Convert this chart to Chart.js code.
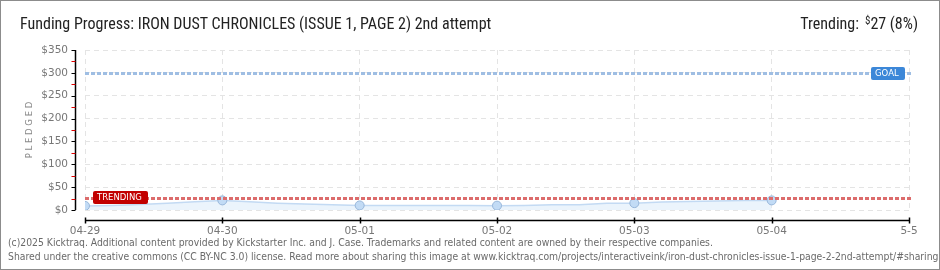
<!DOCTYPE html>
<html>
<head>
<meta charset="utf-8">
<script src="https://cdn.jsdelivr.net/npm/chart.js@4.4.1/dist/chart.umd.min.js"></script>
<style>
  html, body { margin: 0; padding: 0; background: #fff; }
  #wrap { position: relative; width: 940px; height: 270px; box-sizing: border-box; border: 1px solid #8c8c8c; overflow: hidden; }
  #chart { position: absolute; left: -1px; top: -1px; }
  .txt { position: absolute; white-space: nowrap; font-family: "Liberation Sans Narrow", "Roboto Condensed", Roboto, sans-serif; color: #222; }
  #title { left: 19px; top: 13px; font-size: 16px; }
  #trend { right: 21px; top: 13px; font-size: 16px; }
  #trend sup { font-size: 11px; vertical-align: 5px; margin-left: 6px; }
  .foot { left: 7px; font-family: "DejaVu Sans Condensed", "DejaVu Sans", sans-serif; font-size: 10.3px; color: #6a6a6a; }
</style>
</head>
<body>
<div id="wrap">
  <canvas id="chart" width="940" height="270"></canvas>
  <div class="txt" id="title">Funding Progress: IRON DUST CHRONICLES (ISSUE 1, PAGE 2) 2nd attempt</div>
  <div class="txt" id="trend">Trending:<sup>$</sup>27 (8%)</div>
  <div class="txt foot" style="top:235px">(c)2025 Kicktraq. Additional content provided by Kickstarter Inc. and J. Case. Trademarks and related content are owned by their respective companies.</div>
  <div class="txt foot" style="top:249px">Shared under the creative commons (CC BY-NC 3.0) license. Read more about sharing this image at www.kicktraq.com/projects/interactiveink/iron-dust-chronicles-issue-1-page-2-2nd-attempt/#sharing</div>
</div>
<script>
// Day labels along the x axis (one per day, index = day offset)
const dayLabels = ["04-29", "04-30", "05-01", "05-02", "05-03", "05-04", "5-5"];

// Pledged samples (day offset from 04-29, dollars)
const sampleDays = [0, 0.2, 0.4, 0.6, 0.8, 1, 1.2, 1.4, 1.6, 1.8, 2, 2.2, 2.4, 2.6, 2.8, 3, 3.2, 3.4, 3.6, 3.8, 4, 4.2, 4.4, 4.6, 4.8, 5];
const pledged = [9, 10, 12, 15, 18, 21, 18, 15, 13, 11.5, 10, 10, 10, 10, 10, 9.5, 10, 11.5, 11.5, 15, 15, 17.5, 18.5, 19.5, 21, 21];

// Reference lines
const goal = 300;
const trending = 27;

const pixelFont = "'DejaVu Sans', sans-serif";

// Draws the offset axis lines, minor ticks and the GOAL / TRENDING lines
const extras = {
  id: "extras",
  afterDatasetsDraw(chart) {
    const { ctx, chartArea: a, scales: { x, y } } = chart;
    ctx.save();

    // reference lines
    function refLine(val, color) {
      const py = Math.round(y.getPixelForValue(val)) + 0.5;
      ctx.strokeStyle = color;
      ctx.lineWidth = 3;
      ctx.setLineDash([4, 2]);
      ctx.beginPath();
      ctx.moveTo(a.left, py);
      ctx.lineTo(a.right + 2, py);
      ctx.stroke();
      ctx.setLineDash([]);
      return py;
    }
    const gy = refLine(goal, "#9fbee3");
    const ty = refLine(trending, "#dc6c6c");

    function tag(text, left, width, cy, color) {
      ctx.fillStyle = color;
      ctx.beginPath();
      ctx.roundRect(left, cy - 6.5, width, 13, 2);
      ctx.fill();
      ctx.fillStyle = "#fff";
      ctx.font = "8.5px " + pixelFont;
      ctx.textAlign = "left";
      ctx.textBaseline = "middle";
      ctx.fillText(text, left + 4, cy + 0.5);
    }
    tag("GOAL", 871, 34, gy, "#3c87d8");
    tag("TRENDING", 93, 55, ty - 1, "#c20000");

    // y axis line, offset left of the plot
    const axX = a.left - 9.5;
    ctx.strokeStyle = "#000";
    ctx.lineWidth = 1.5;
    ctx.beginPath();
    ctx.moveTo(axX, a.top);
    ctx.lineTo(axX, a.bottom);
    ctx.stroke();
    for (let v = y.min; v <= y.max; v += 25) {
      const py = Math.round(y.getPixelForValue(v)) + 0.5;
      ctx.strokeStyle = v % 50 === 0 ? "#000" : "#e00000";
      ctx.lineWidth = 1;
      ctx.beginPath();
      ctx.moveTo(axX - 4, py);
      ctx.lineTo(axX, py);
      ctx.stroke();
    }

    // x axis line, offset below the plot
    const axY = a.bottom + 10.5;
    ctx.strokeStyle = "#000";
    ctx.lineWidth = 1.5;
    ctx.beginPath();
    ctx.moveTo(a.left, axY);
    ctx.lineTo(a.right, axY);
    ctx.stroke();
    x.ticks.forEach(t => {
      const px = Math.round(x.getPixelForValue(t.value)) + 0.5;
      ctx.beginPath();
      ctx.moveTo(px, axY - 3);
      ctx.lineTo(px, axY + 3);
      ctx.stroke();
    });
    ctx.restore();
  }
};

const ctx = document.getElementById("chart").getContext("2d");

const fundingChart = new Chart(ctx, {
  type: "line",
  data: {
    datasets: [{
      label: "Pledged",
      data: sampleDays.map((d, i) => ({ x: d, y: pledged[i] })),
      borderColor: "#c3daf3",
      borderWidth: 1.5,
      backgroundColor: "rgba(232, 242, 252, 0.85)",
      fill: "origin",
      tension: 0,
      pointRadius: c => Number.isInteger(sampleDays[c.dataIndex]) ? 4.5 : 0,
      pointBackgroundColor: "#c2dbf5",
      pointBorderColor: "#97b6da",
      pointBorderWidth: 1
    }]
  },
  options: {
    responsive: false,
    animation: false,
    layout: { padding: { left: 0, right: 31, top: 50, bottom: 0 } },
    scales: {
      x: {
        type: "linear",
        min: 0,
        max: 6,
        afterFit: s => { s.height = 60; },
        ticks: {
          stepSize: 1,
          padding: 15,
          color: "#777",
          font: { family: pixelFont, size: 10.5 },
          callback: v => dayLabels[v]
        },
        grid: { color: "#e4e4e4", drawTicks: false },
        border: { display: false, dash: [5, 4] }
      },
      y: {
        min: 0,
        max: 350,
        afterFit: s => { s.width = 85; },
        ticks: {
          stepSize: 50,
          padding: 17,
          color: "#777",
          font: { family: pixelFont, size: 10.5 },
          callback: v => "$" + v
        },
        grid: { color: "#e4e4e4", drawTicks: false },
        border: { display: false, dash: [5, 4] },
        title: {
          display: true,
          text: "P L E D G E D",
          color: "#888",
          font: { family: pixelFont, size: 8.5 },
          padding: { top: 25, bottom: 0 }
        }
      }
    },
    plugins: {
      legend: { display: false },
      tooltip: { enabled: false }
    }
  },
  plugins: [extras]
});
</script>
</body>
</html>
